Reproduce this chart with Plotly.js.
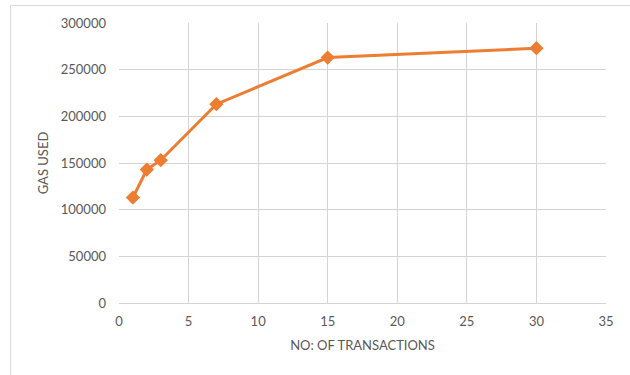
<!DOCTYPE html>
<html>
<head>
<meta charset="utf-8">
<script src="https://cdn.plot.ly/plotly-3.0.1.min.js"></script>
<style>
html,body{margin:0;padding:0;background:#fff;}
#frame{position:absolute;left:10px;top:5px;width:640px;height:380px;border-left:1px solid #d9d9d9;border-top:1px solid #d9d9d9;}
#chart{position:absolute;left:0;top:0;width:630px;height:375px;}
</style>
</head>
<body>
<div id="frame"></div>
<div id="chart"></div>
<script>
const transactions = [1, 2, 3, 7, 15, 30];
const gasUsed = [113000, 143000, 153000, 213000, 263000, 273000];
const xTickValues = [0, 5, 10, 15, 20, 25, 30, 35];
const yTickValues = [0, 50000, 100000, 150000, 200000, 250000, 300000];

const textColor = '#595959';
const gridColor = '#d4d4d4';
const fontFamily = 'Lato, "Open Sans", sans-serif';

const trace = {
  x: transactions,
  y: gasUsed,
  type: 'scatter',
  mode: 'lines+markers',
  line: {color: '#ED7D31', width: 3},
  marker: {symbol: 'diamond', size: 11, color: '#ED7D31'},
  hoverinfo: 'x+y'
};

const layout = {
  width: 630,
  height: 375,
  margin: {l: 119, r: 24, t: 23, b: 72},
  paper_bgcolor: 'rgba(0,0,0,0)',
  plot_bgcolor: 'rgba(0,0,0,0)',
  showlegend: false,
  font: {family: fontFamily, size: 13, color: textColor},
  xaxis: {
    range: [0, 35],
    tickmode: 'array',
    tickvals: xTickValues,
    showgrid: true,
    gridcolor: gridColor,
    gridwidth: 1,
    zeroline: false,
    showline: false,
    ticks: '',
    ticklabelstandoff: 9,
    tickfont: {family: fontFamily, size: 13, color: textColor},
    title: {text: 'NO: OF TRANSACTIONS', font: {family: fontFamily, size: 13, color: textColor}, standoff: 12}
  },
  yaxis: {
    range: [0, 300000],
    tickmode: 'array',
    tickvals: yTickValues,
    tickformat: 'd',
    showgrid: true,
    gridcolor: gridColor,
    gridwidth: 1,
    zeroline: true,
    zerolinecolor: gridColor,
    zerolinewidth: 1,
    showline: false,
    ticks: '',
    ticklabelstandoff: 12,
    tickfont: {family: fontFamily, size: 13, color: textColor},
    title: {text: 'GAS USED', font: {family: fontFamily, size: 13, color: textColor}, standoff: 9}
  }
};

Plotly.newPlot('chart', [trace], layout, {displayModeBar: false, staticPlot: true});
</script>
</body>
</html>
